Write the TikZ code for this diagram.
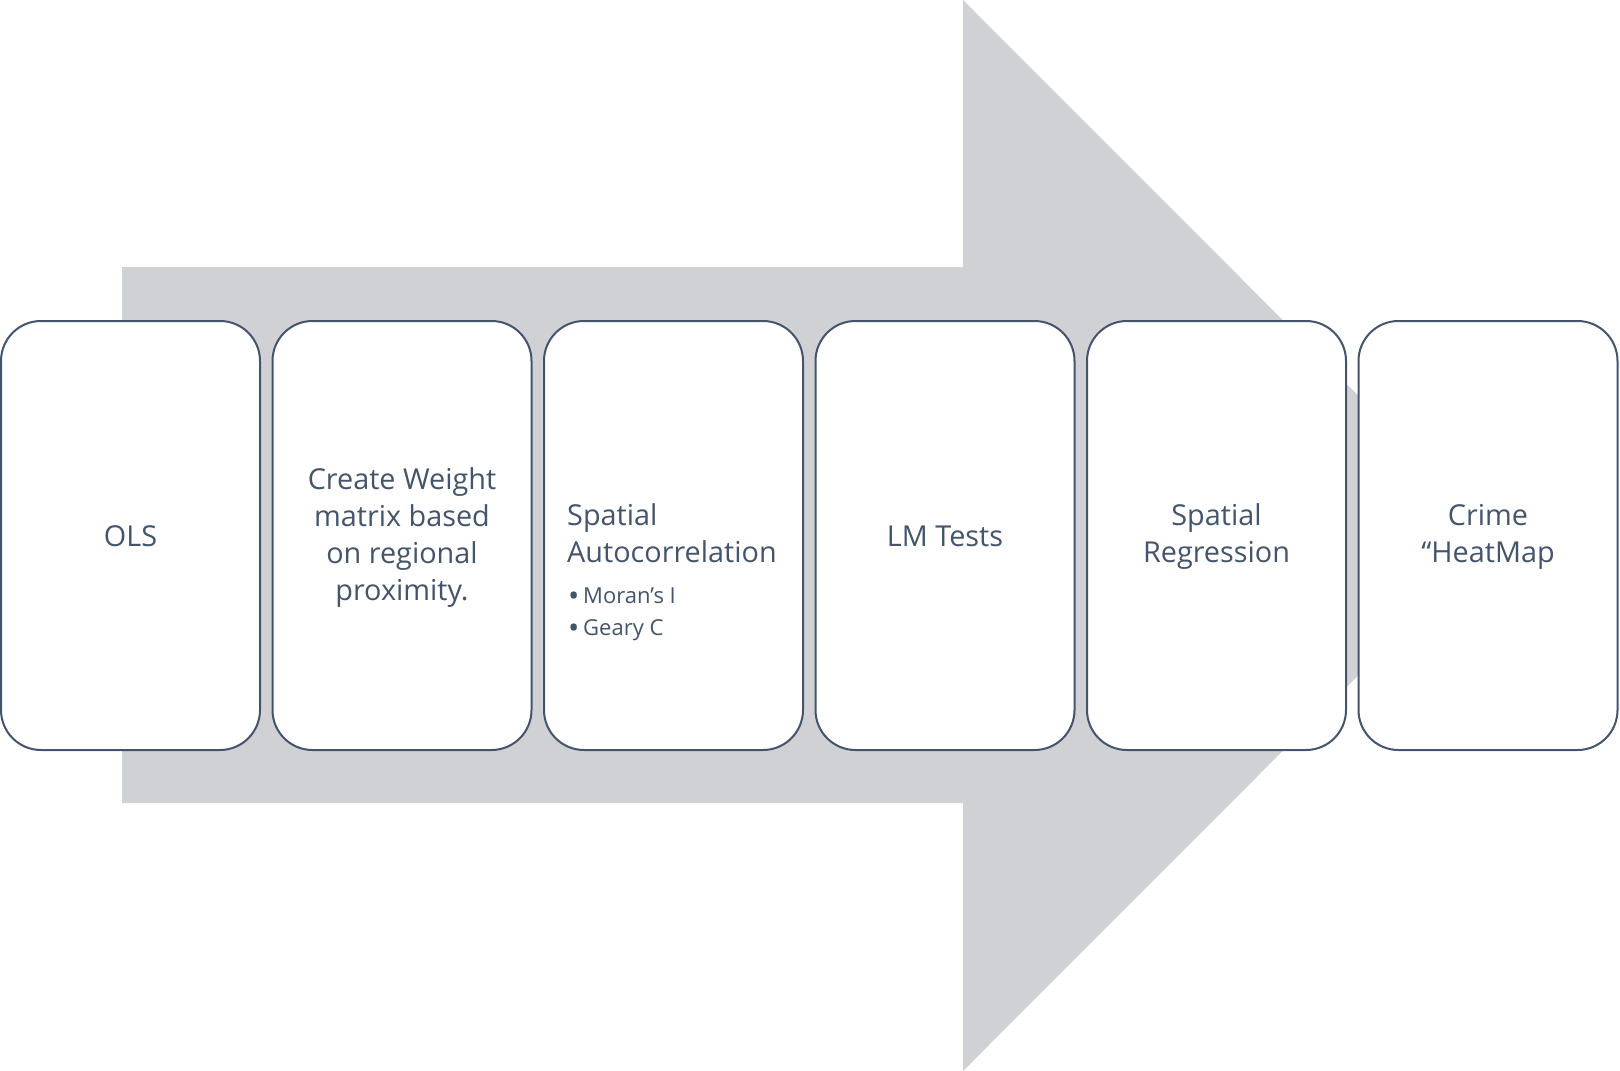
\documentclass[tikz,border=0pt]{standalone}
\usepackage{fontspec}
\setmainfont{Open Sans}
\definecolor{arrowgray}{RGB}{208,209,213}
\definecolor{slate}{RGB}{68,84,106}
\newcommand{\mybullet}{\makebox[15pt][l]{\raisebox{-3.5pt}{\fontsize{30}{32}\selectfont\textbullet}}}
\begin{document}
\begin{tikzpicture}[x=1pt,y=-1pt,
  stepbox/.style={draw=slate, line width=2pt, fill=white, rounded corners=40pt,
    minimum width=259pt, minimum height=429pt, inner sep=0pt, outer sep=0pt},
  boxtext/.style={text=slate, inner sep=0pt, align=center, font=\fontsize{28.8}{37}\selectfont},
  bodytext/.style={text=slate, inner sep=0pt, align=left}]
\useasboundingbox (0,0) rectangle (1620,1071);
% big background arrow
\fill[arrowgray] (122,267) -- (963,267) -- (963,0) -- (1498,535.5) -- (963,1071) -- (963,803) -- (122,803) -- cycle;
% boxes
\node[stepbox] (b1) at (130.5,535.5) {};
\node[stepbox] (b2) at (402,535.5) {};
\node[stepbox] (b3) at (673.5,535.5) {};
\node[stepbox] (b4) at (945,535.5) {};
\node[stepbox] (b5) at (1216.5,535.5) {};
\node[stepbox] (b6) at (1488,535.5) {};
% texts
\node[boxtext] (t1) at ([yshift=-1pt]b1.center) {OLS};
\node[boxtext] (t2) at ([yshift=-2.5pt]b2.center) {Create Weight\\matrix based\\on regional\\proximity.};
\node[boxtext] (t4) at ([yshift=-1pt]b4.center) {LM Tests};
\node[boxtext] (t5) at ([yshift=-1.5pt]b5.center) {Spatial\\Regression};
\node[boxtext] (t6) at ([yshift=-1.5pt]b6.center) {Crime\\\textquotedblleft HeatMap};
\node[bodytext, anchor=west, font=\fontsize{28.8}{37.5}\selectfont] (t3) at (567,533) {Spatial\\Autocorrelation};
\node[bodytext, anchor=west, font=\fontsize{22}{32}\selectfont] (t3b) at (568,614) {\mybullet Moran’s I\\\mybullet Geary C};
\end{tikzpicture}
\end{document}
